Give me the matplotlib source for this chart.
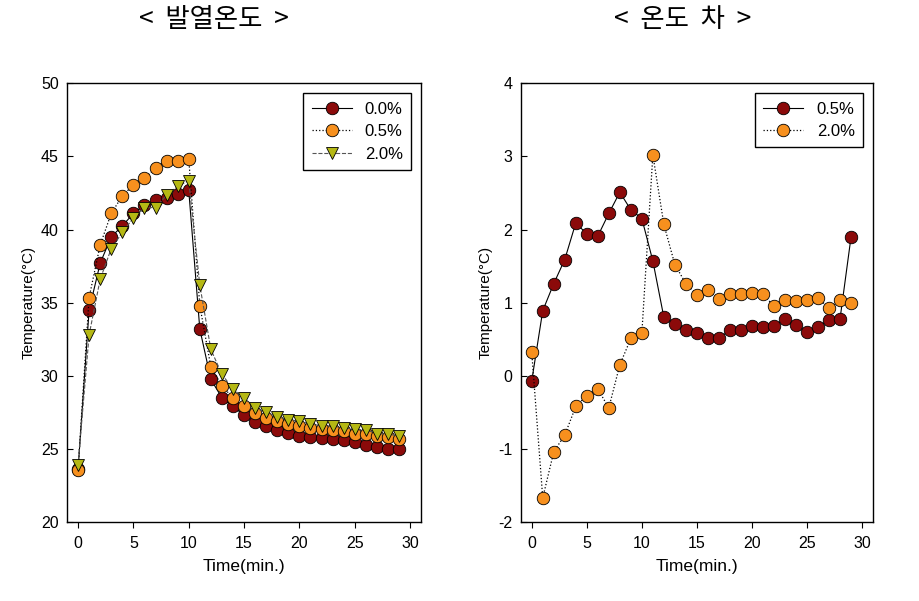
import matplotlib
matplotlib.use('Agg')
import matplotlib.pyplot as plt

plt.rcParams['font.family'] = ['Liberation Sans', 'Noto Sans CJK KR', 'DejaVu Sans']
plt.rcParams['axes.unicode_minus'] = False

time_min = list(range(30))

# left panel: heat temperature (°C)
temp_00 = [23.6, 34.5, 37.7, 39.5, 40.25, 41.1, 41.7, 42.0, 42.15, 42.4,
           42.7, 33.2, 29.75, 28.5, 27.9, 27.3, 26.85, 26.6, 26.3, 26.1,
           25.9, 25.8, 25.75, 25.65, 25.6, 25.5, 25.3, 25.15, 25.0, 25.0]
temp_05 = [23.55, 35.35, 38.95, 41.1, 42.3, 43.05, 43.5, 44.2, 44.7, 44.7,
           44.85, 34.8, 30.6, 29.3, 28.5, 27.9, 27.45, 27.1, 26.9, 26.7,
           26.6, 26.45, 26.35, 26.3, 26.2, 26.05, 26.0, 25.9, 25.8, 25.7]
temp_20 = [23.9, 32.8, 36.6, 38.7, 39.8, 40.8, 41.5, 41.5, 42.35, 42.95,
           43.35, 36.2, 31.8, 30.1, 29.1, 28.45, 27.8, 27.5, 27.2, 27.0,
           26.9, 26.7, 26.6, 26.55, 26.45, 26.35, 26.3, 26.05, 26.0, 25.9]

# right panel: temperature difference (°C)
diff_05 = [-0.07, 0.89, 1.26, 1.59, 2.09, 1.94, 1.91, 2.22, 2.51, 2.27,
           2.15, 1.57, 0.80, 0.71, 0.62, 0.59, 0.52, 0.52, 0.62, 0.62,
           0.68, 0.67, 0.68, 0.78, 0.69, 0.60, 0.67, 0.76, 0.78, 1.90]
diff_20 = [0.32, -1.67, -1.04, -0.81, -0.42, -0.27, -0.18, -0.44, 0.15, 0.51,
           0.58, 3.02, 2.07, 1.52, 1.26, 1.11, 1.17, 1.05, 1.12, 1.12,
           1.13, 1.12, 0.95, 1.03, 1.02, 1.03, 1.06, 0.93, 1.03, 1.00]

DARK = '#8B0A0A'
ORANGE = '#F7901E'
OLIVE = '#B5B814'

fig = plt.figure(figsize=(9.2, 6.01), dpi=100)
ax1 = fig.add_axes([0.0728, 0.1314, 0.385, 0.730])
ax2 = fig.add_axes([0.566, 0.1314, 0.383, 0.730])

mk = dict(markersize=9, markeredgecolor='black', markeredgewidth=0.6)

ax1.plot(time_min, temp_00, '-', color='black', lw=0.8, marker='o',
         markerfacecolor=DARK, label='0.0%', zorder=3, **mk)
ax1.plot(time_min, temp_05, ':', color='black', lw=0.9, marker='o',
         markerfacecolor=ORANGE, label='0.5%', zorder=4, **mk)
ax1.plot(time_min, temp_20, '--', color='#555555', lw=0.8, marker='v',
         markerfacecolor=OLIVE, label='2.0%', zorder=5, **mk)
ax1.set_ylim(20, 50)
ax1.set_yticks(range(20, 51, 5))

ax2.plot(time_min, diff_05, '-', color='black', lw=0.8, marker='o',
         markerfacecolor=DARK, label='0.5%', zorder=3, **mk)
ax2.plot(time_min, diff_20, ':', color='black', lw=0.9, marker='o',
         markerfacecolor=ORANGE, label='2.0%', zorder=4, **mk)
ax2.set_ylim(-2, 4)
ax2.set_yticks(range(-2, 5))

for ax in (ax1, ax2):
    ax.set_xlim(-1, 31)
    ax.set_xticks(range(0, 31, 5))
    ax.tick_params(axis='x', direction='out', length=4, labelsize=11.5, pad=6)
    ax.tick_params(axis='y', direction='in', length=4, labelsize=11.5, pad=6)
    ax.set_xlabel('Time(min.)', fontsize=12.5, labelpad=6)
    ax.set_ylabel('Temperature(\u00b0C)', fontsize=11, labelpad=4)
    for s in ax.spines.values():
        s.set_linewidth(1.0)
    leg = ax.legend(loc='upper right', fontsize=12, fancybox=False,
                    edgecolor='black', framealpha=1, handlelength=2.4,
                    borderaxespad=0.6, labelspacing=0.45, borderpad=0.5)
    leg.get_frame().set_linewidth(1.0)

fig.text(0.233, 0.968, '<  발열온도  >', ha='center', va='center', fontsize=19,
         family=['Noto Sans CJK KR', 'DejaVu Sans'])
fig.text(0.742, 0.968, '<  온도  차  >', ha='center', va='center', fontsize=19,
         family=['Noto Sans CJK KR', 'DejaVu Sans'])

fig.savefig('out.png', dpi=100, facecolor='white')
